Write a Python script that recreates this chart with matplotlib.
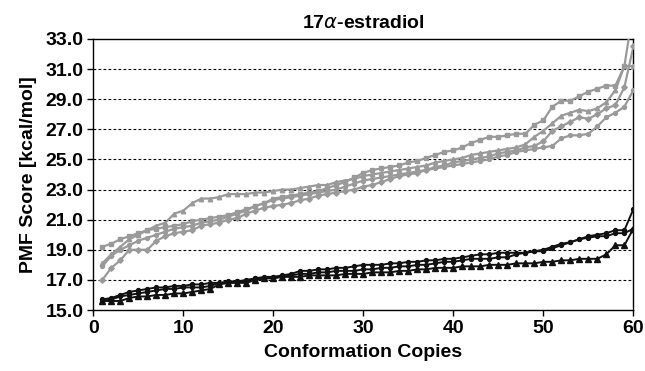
import numpy as np
import matplotlib
matplotlib.use("Agg")
import matplotlib.pyplot as plt

plt.rcParams['font.family'] = ['Liberation Sans', 'DejaVu Sans']

# conformation copies 1..60
copies = list(range(1, 61))

# gray series (upper band)
serie_a = [19.2, 19.4, 19.7, 19.9, 20.1, 20.3, 20.4, 20.5, 20.6, 20.7,
           20.9, 21.0, 21.1, 21.2, 21.3, 21.5, 21.7, 21.9, 22.1, 22.4,
           22.5, 22.6, 22.7, 22.8, 22.9, 23.1, 23.3, 23.5, 23.8, 24.1,
           24.3, 24.4, 24.5, 24.6, 24.8, 24.9, 25.1, 25.3, 25.5, 25.6,
           25.8, 26.1, 26.3, 26.5, 26.5, 26.6, 26.7, 26.7, 27.3, 27.6,
           28.5, 28.9, 28.9, 29.2, 29.5, 29.7, 29.9, 29.9, 31.2, 35.0]
serie_b = [18.1, 18.7, 19.2, 19.7, 20.0, 20.3, 20.6, 20.8, 21.4, 21.6,
           22.1, 22.4, 22.4, 22.5, 22.7, 22.7, 22.7, 22.8, 22.8, 22.9,
           23.0, 23.0, 23.1, 23.2, 23.3, 23.3, 23.5, 23.6, 23.7, 23.9,
           24.0, 24.1, 24.2, 24.3, 24.4, 24.5, 24.6, 24.8, 24.9, 25.0,
           25.1, 25.3, 25.4, 25.5, 25.6, 25.7, 25.8, 26.0, 26.5, 26.9,
           27.4, 27.9, 28.1, 28.3, 28.2, 28.4, 28.8, 29.6, 31.2, 31.2]
serie_c = [17.0, 17.8, 18.3, 19.0, 19.0, 19.0, 19.6, 19.9, 20.1, 20.2,
           20.3, 20.6, 20.7, 20.8, 21.0, 21.1, 21.4, 21.6, 21.8, 21.9,
           22.0, 22.1, 22.3, 22.4, 22.6, 22.7, 22.8, 22.9, 23.0, 23.2,
           23.3, 23.5, 23.7, 23.9, 24.0, 24.1, 24.3, 24.5, 24.6, 24.8,
           24.9, 25.0, 25.1, 25.2, 25.4, 25.5, 25.6, 25.8, 25.9, 26.2,
           26.9, 27.2, 27.5, 27.8, 27.7, 28.0, 28.4, 28.6, 29.8, 32.5]
serie_d = [17.9, 18.6, 19.0, 19.3, 19.6, 19.8, 20.0, 20.2, 20.4, 20.5,
           20.6, 20.8, 20.9, 21.0, 21.2, 21.4, 21.6, 21.9, 22.1, 22.3,
           22.4, 22.5, 22.6, 22.7, 22.8, 22.9, 23.0, 23.2, 23.4, 23.6,
           23.7, 23.8, 23.9, 24.0, 24.1, 24.2, 24.3, 24.4, 24.5, 24.6,
           24.7, 24.8, 24.9, 25.0, 25.2, 25.3, 25.5, 25.6, 25.7, 25.8,
           25.9, 26.4, 26.6, 26.6, 26.7, 27.2, 27.8, 28.1, 28.5, 29.6]

# black series (lower band)
serie_e = [15.7, 15.8, 16.0, 16.2, 16.3, 16.4, 16.5, 16.5, 16.6, 16.6,
           16.7, 16.7, 16.8, 16.8, 16.9, 16.9, 17.0, 17.1, 17.2, 17.2,
           17.3, 17.4, 17.6, 17.6, 17.7, 17.7, 17.8, 17.8, 17.9, 18.0,
           18.0, 18.0, 18.1, 18.1, 18.2, 18.2, 18.3, 18.3, 18.4, 18.4,
           18.5, 18.6, 18.7, 18.7, 18.8, 18.8, 18.8, 18.8, 18.9, 19.0,
           19.2, 19.4, 19.5, 19.7, 19.9, 20.0, 20.1, 20.3, 20.3, 21.7]
serie_g = [15.6, 15.7, 15.9, 16.0, 16.1, 16.2, 16.3, 16.4, 16.4, 16.5,
           16.5, 16.5, 16.6, 16.8, 16.8, 16.9, 16.9, 17.1, 17.1, 17.2,
           17.2, 17.3, 17.4, 17.4, 17.5, 17.5, 17.6, 17.6, 17.6, 17.7,
           17.7, 17.8, 17.8, 17.9, 17.9, 18.0, 18.0, 18.1, 18.2, 18.2,
           18.3, 18.4, 18.4, 18.4, 18.5, 18.5, 18.7, 18.8, 18.9, 18.9,
           19.1, 19.3, 19.5, 19.7, 19.8, 19.9, 19.9, 20.1, 20.1, 20.4]
serie_f = [15.6, 15.6, 15.6, 15.8, 15.9, 15.9, 16.0, 16.0, 16.1, 16.1,
           16.2, 16.3, 16.4, 16.7, 16.8, 16.8, 16.8, 17.0, 17.1, 17.1,
           17.2, 17.2, 17.2, 17.3, 17.3, 17.3, 17.3, 17.4, 17.4, 17.4,
           17.5, 17.5, 17.5, 17.6, 17.6, 17.7, 17.7, 17.8, 17.8, 17.8,
           17.9, 17.9, 17.9, 18.0, 18.0, 18.0, 18.1, 18.1, 18.1, 18.2,
           18.2, 18.3, 18.3, 18.4, 18.4, 18.4, 18.7, 19.3, 19.3, 20.4]

grigio = '#9a9a9a'
nero = '#111111'

fig = plt.figure(figsize=(6.45, 3.71), dpi=100)
ax = fig.add_axes([0.1447, 0.1644, 0.8373, 0.7306])

ax.plot(copies, serie_c, color=grigio, lw=1.6, marker='D', ms=2.8, zorder=3)
ax.plot(copies, serie_d, color=grigio, lw=1.6, marker='o', ms=2.8, zorder=3)
ax.plot(copies, serie_b, color=grigio, lw=1.6, marker='^', ms=3.2, zorder=3)
ax.plot(copies, serie_a, color=grigio, lw=1.6, marker='s', ms=2.8, zorder=3)

ax.plot(copies, serie_f, color=nero, lw=1.4, marker='^', ms=3.8, zorder=4)
ax.plot(copies, serie_g, color=nero, lw=1.4, marker='o', ms=2.8, zorder=4)
ax.plot(copies, serie_e, color=nero, lw=1.4, marker='o', ms=2.8, zorder=4)

ax.set_xlim(0, 60)
ax.set_ylim(15, 33)
ax.set_xticks(range(0, 61, 10))
ax.set_yticks(np.arange(15, 33.1, 2))
ax.set_yticklabels(['%.1f' % v for v in np.arange(15, 33.1, 2)])

# gridlines only at interior ticks
for v in range(17, 33, 2):
    ax.axhline(v, color='black', lw=0.8, ls=(0, (2.5, 2)), zorder=1)

for lab in ax.get_xticklabels() + ax.get_yticklabels():
    lab.set_fontweight('bold')
    lab.set_fontsize(14)
ax.tick_params(direction='out', length=4, width=1, pad=3)

for sp in ax.spines.values():
    sp.set_linewidth(1)
    sp.set_color('black')

ax.set_xlabel('Conformation Copies', fontsize=14, fontweight='bold', labelpad=5)
ax.set_ylabel('PMF Score [kcal/mol]', fontsize=14, fontweight='bold', labelpad=6)
ax.set_title(r'17$\alpha$-estradiol', fontsize=14, fontweight='bold', pad=8)

fig.savefig('out.png', dpi=100)
